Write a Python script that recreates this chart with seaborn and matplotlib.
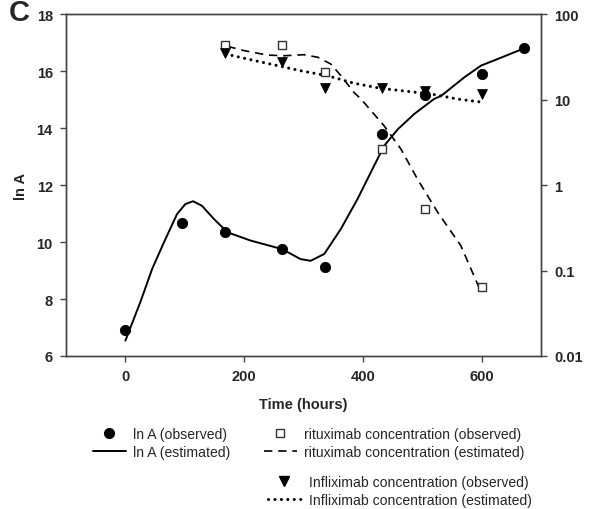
import matplotlib
matplotlib.use("Agg")
import matplotlib.pyplot as plt
from matplotlib.lines import Line2D
import numpy as np
import pandas as pd
import seaborn as sns

# Observed sampling times (hours)
obs_time = [0, 96, 168, 264, 336, 432, 504, 600, 672]
lnA_obs = [6.9, 10.67, 10.35, 9.75, 9.12, 13.8, 15.15, 15.9, 16.8]

conc_time = [168, 264, 336, 432, 504, 600]
ritux_obs = [43.8, 43.4, 21.1, 2.64, 0.53, 0.064]
inflix_obs = [35.0, 27.2, 13.5, 13.5, 12.7, 11.6]

# Model-estimated profiles
lnA_est_time = [0, 25, 45, 65, 87, 101, 114, 129, 149, 172, 211, 264, 295, 312,
                335, 363, 391, 419, 436, 459, 487, 520, 532, 571, 599, 627, 672]
lnA_est = [6.54, 7.88, 9.05, 9.99, 10.98, 11.33, 11.43, 11.27, 10.81, 10.34, 10.05,
           9.75, 9.40, 9.34, 9.58, 10.46, 11.51, 12.68, 13.38, 13.96, 14.50, 15.02,
           15.13, 15.78, 16.19, 16.42, 16.80]

ritux_est_time = [172, 200, 239, 267, 301, 324, 346, 363, 385, 397, 436, 464, 492,
                  526, 565, 599]
ritux_est = [41.9, 37.3, 33.1, 32.5, 33.4, 31.2, 26.0, 19.0, 12.1, 10.1, 4.9, 2.64,
             1.17, 0.48, 0.195, 0.056]

inflix_est_time = [169, 211, 262, 295, 340, 385, 430, 464, 515, 560, 596]
inflix_est = [34.0, 29.2, 24.4, 21.7, 19.0, 15.5, 13.5, 12.7, 11.6, 10.1, 9.4]

x_ticks = [0, 200, 400, 600]
lnA_ticks = [6, 8, 10, 12, 14, 16, 18]
conc_ticks = [0.01, 0.1, 1, 10, 100]
conc_tick_labels = ["0.01", "0.1", "1", "10", "100"]

sns.set_style("ticks")
plt.rcParams["font.family"] = ["Liberation Sans", "DejaVu Sans"]

SPINE = "#444444"
DASH = (0, (5, 3.5))
DOT = (0, (0.01, 2.1))
TICK_FS = 10.5
LEG_FS = 10.1

fig = plt.figure(figsize=(5.93, 5.10), dpi=100)
ax = fig.add_axes([66 / 593, 153 / 510, 475 / 593, 342 / 510])
ax2 = ax.twinx()

# ln A on the left axis
sns.lineplot(x=lnA_est_time, y=lnA_est, ax=ax, color="black", lw=1.4, sort=False)
sns.scatterplot(x=obs_time, y=lnA_obs, ax=ax, color="black", marker="o", s=55,
                edgecolor="black", zorder=5)

# concentrations on the right (log) axis
sns.lineplot(x=ritux_est_time, y=ritux_est, ax=ax2, color="black", lw=1.2,
             linestyle=DASH, sort=False)
sns.lineplot(x=inflix_est_time, y=inflix_est, ax=ax2, color="black", lw=2.2,
             linestyle=DOT, sort=False, dash_capstyle="round")
sns.scatterplot(x=conc_time, y=ritux_obs, ax=ax2, marker="s", s=40,
                facecolor="white", edgecolor="#333333", linewidth=1.0, zorder=5)
sns.scatterplot(x=conc_time, y=inflix_obs, ax=ax2, marker="v", s=50,
                color="black", edgecolor="black", zorder=5)

ax.set_xlim(-100, 700)
ax.set_ylim(6, 18)
ax.set_xticks(x_ticks)
ax.set_yticks(lnA_ticks)
ax2.set_yscale("log")
ax2.set_ylim(0.01, 100)
ax2.set_yticks(conc_ticks)
ax2.set_yticklabels(conc_tick_labels)
ax2.yaxis.set_minor_locator(matplotlib.ticker.NullLocator())

for a in (ax, ax2):
    for sp in a.spines.values():
        sp.set_visible(True)
        sp.set_color(SPINE)
        sp.set_linewidth(1.0)
    a.tick_params(direction="out", length=4.5, width=1.0, color=SPINE,
                  labelsize=TICK_FS, pad=5)
    for lbl in a.get_xticklabels() + a.get_yticklabels():
        lbl.set_fontweight("bold")

ax.set_xlabel("Time (hours)", fontsize=TICK_FS, fontweight="bold", labelpad=10)
ax.set_ylabel("ln A", fontsize=TICK_FS, fontweight="bold", labelpad=6)
ax2.set_ylabel("")

fig.text(9 / 593, 1 - 21 / 510, "C", fontsize=21, fontweight="bold",
         ha="left", va="baseline")

leg_kw = dict(frameon=False, fontsize=LEG_FS, handlelength=2.35, handletextpad=0.5,
              labelspacing=0.3, borderpad=0, borderaxespad=0, loc="upper left",
              bbox_transform=fig.transFigure, numpoints=1)

h1 = [Line2D([], [], color="black", marker="o", ls="none", markersize=7),
      Line2D([], [], color="black", lw=1.4)]
fig.legend(h1, ["ln A (observed)", "ln A (estimated)"],
           bbox_to_anchor=(93 / 593, 1 - 428 / 510), **leg_kw)

h2 = [Line2D([], [], color="#333333", marker="s", ls="none", markersize=6,
             markerfacecolor="white", markeredgewidth=1.0),
      Line2D([], [], color="black", lw=1.2, ls=DASH)]
fig.legend(h2, ["rituximab concentration (observed)",
                "rituximab concentration (estimated)"],
           bbox_to_anchor=(264 / 593, 1 - 428 / 510), **leg_kw)

leg_kw3 = dict(leg_kw, handletextpad=0.6)
h3 = [Line2D([], [], color="black", marker="v", ls="none", markersize=7),
      Line2D([], [], color="black", lw=2.2, ls=DOT, dash_capstyle="round")]
fig.legend(h3, ["Infliximab concentration (observed)",
                "Infliximab concentration (estimated)"],
           bbox_to_anchor=(268 / 593, 1 - 476 / 510), **leg_kw3)

fig.savefig("out.png", dpi=100, facecolor="white")
